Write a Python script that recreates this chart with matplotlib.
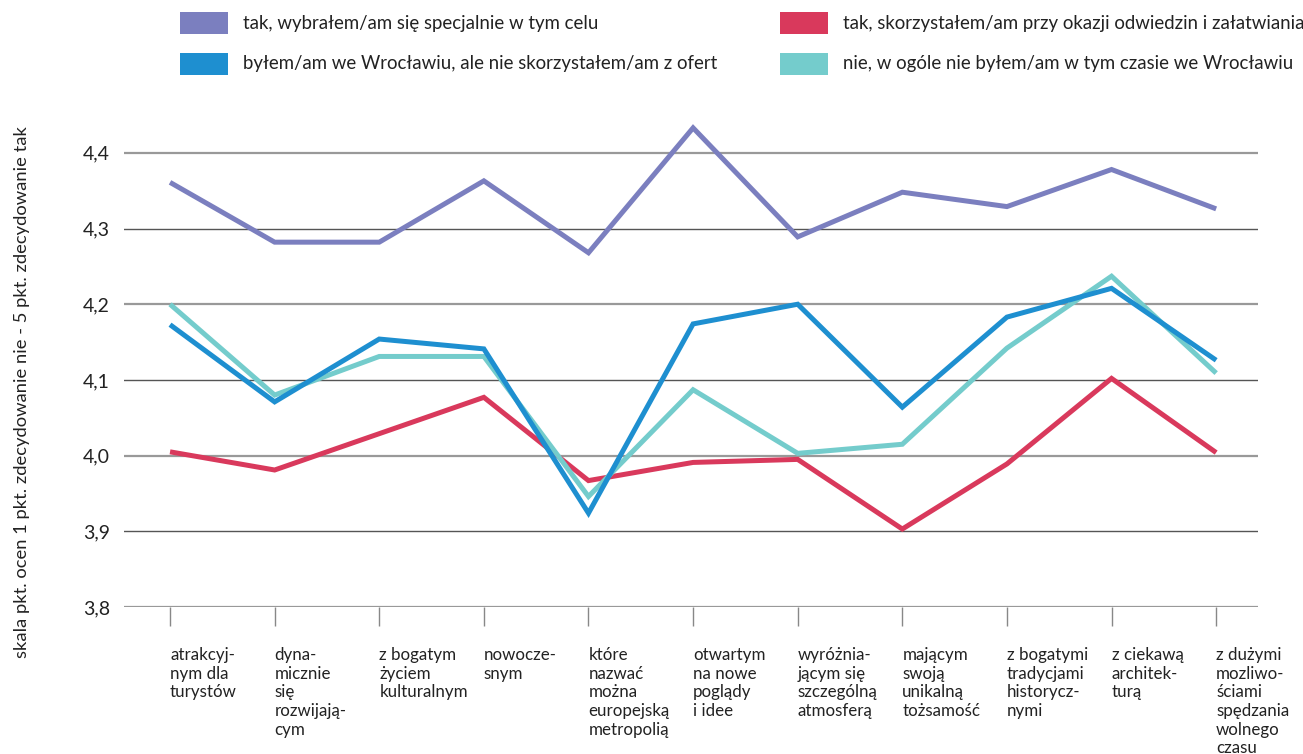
import matplotlib
matplotlib.use('Agg')
import matplotlib.pyplot as plt
from matplotlib.patches import Rectangle

plt.rcParams['font.family'] = ['Lato', 'DejaVu Sans']

categories = [
    "atrakcyj-\nnym dla\nturystów",
    "dyna-\nmicznie\nsię\nrozwijają-\ncym",
    "z bogatym\nżyciem\nkulturalnym",
    "nowocze-\nsnym",
    "które\nnazwać\nmożna\neuropejską\nmetropolią",
    "otwartym\nna nowe\npoglądy\ni idee",
    "wyróżnia-\njącym się\nszczególną\natmosferą",
    "mającym\nswoją\nunikalną\ntożsamość",
    "z bogatymi\ntradycjami\nhistorycz-\nnymi",
    "z ciekawą\narchitek-\nturą",
    "z dużymi\nmozliwo-\nściami\nspędzania\nwolnego\nczasu",
]

series_labels = [
    "tak, wybrałem/am się specjalnie w tym celu",
    "byłem/am we Wrocławiu, ale nie skorzystałem/am z ofert",
    "tak, skorzystałem/am przy okazji odwiedzin i załatwiania",
    "nie, w ogóle nie byłem/am w tym czasie we Wrocławiu",
]

specjalnie = [4.361, 4.282, 4.282, 4.363, 4.268, 4.433, 4.289, 4.348, 4.329, 4.378, 4.326]
nie_skorzystal = [4.173, 4.071, 4.154, 4.141, 3.924, 4.174, 4.200, 4.064, 4.183, 4.221, 4.126]
przy_okazji = [4.005, 3.981, 4.029, 4.077, 3.967, 3.991, 3.995, 3.903, 3.989, 4.102, 4.004]
nie_byl = [4.200, 4.080, 4.131, 4.131, 3.946, 4.087, 4.003, 4.015, 4.142, 4.237, 4.109]

yticks = [3.8, 3.9, 4.0, 4.1, 4.2, 4.3, 4.4]
ylabel = "skala pkt. ocen 1 pkt. zdecydowanie nie - 5 pkt. zdecydowanie tak"

c_purple = "#7b7fbf"
c_blue = "#1e8fd0"
c_red = "#d9395c"
c_teal = "#74cccc"

fig = plt.figure(figsize=(13.03, 7.54), dpi=100)
ax = fig.add_axes([124 / 1303, 1 - 607 / 754, (1258 - 124) / 1303, (607 - 115) / 754])

x = list(range(len(categories)))
ax.set_xlim(-0.44, 10.40)
ax.set_ylim(3.8, 4.45)

# gridlines
for i, v in enumerate(yticks):
    if round(v * 10) % 2 == 0:
        ax.axhline(v, color="#999999", lw=1.6, zorder=1)
    else:
        ax.axhline(v, color="#555555", lw=1.0, zorder=1)

lw = 3.6
kw = dict(lw=lw, clip_on=False, solid_joinstyle='miter', solid_capstyle='butt', zorder=3)
ax.plot(x, specjalnie, color=c_purple, **kw)
ax.plot(x, przy_okazji, color=c_red, **kw)
ax.plot(x, nie_byl, color=c_teal, **kw)
ax.plot(x, nie_skorzystal, color=c_blue, **kw)

for s in ax.spines.values():
    s.set_visible(False)

ax.set_yticks(yticks)
ax.set_yticklabels([f"{v:.1f}".replace('.', ',') for v in yticks], fontsize=14, color="#222222")
ax.tick_params(axis='y', length=0, pad=10)

ax.set_xticks(x)
ax.set_xticklabels(categories, fontsize=12.2, ha='left', va='top', linespacing=1.2, color="#222222")
ax.tick_params(axis='x', length=14, width=1.0, color="#888888", pad=15, direction='out')

fig.text(22 / 1303, 1 - 392 / 754, ylabel, rotation=90, ha='center', va='center', fontsize=13.25, color="#222222")

# legend (manual)
leg_items = [
    (series_labels[0], c_purple, 180, 23),
    (series_labels[1], c_blue, 180, 64),
    (series_labels[2], c_red, 780, 23),
    (series_labels[3], c_teal, 780, 64),
]
for label, col, px, py in leg_items:
    fig.patches.append(Rectangle((px / 1303, 1 - (py + 11) / 754), 48 / 1303, 22 / 754,
                                 transform=fig.transFigure, facecolor=col, edgecolor='none'))
    fig.text((px + 63) / 1303, 1 - py / 754, label, ha='left', va='center', fontsize=13.4, color="#222222")

fig.savefig("out.png", dpi=100)
